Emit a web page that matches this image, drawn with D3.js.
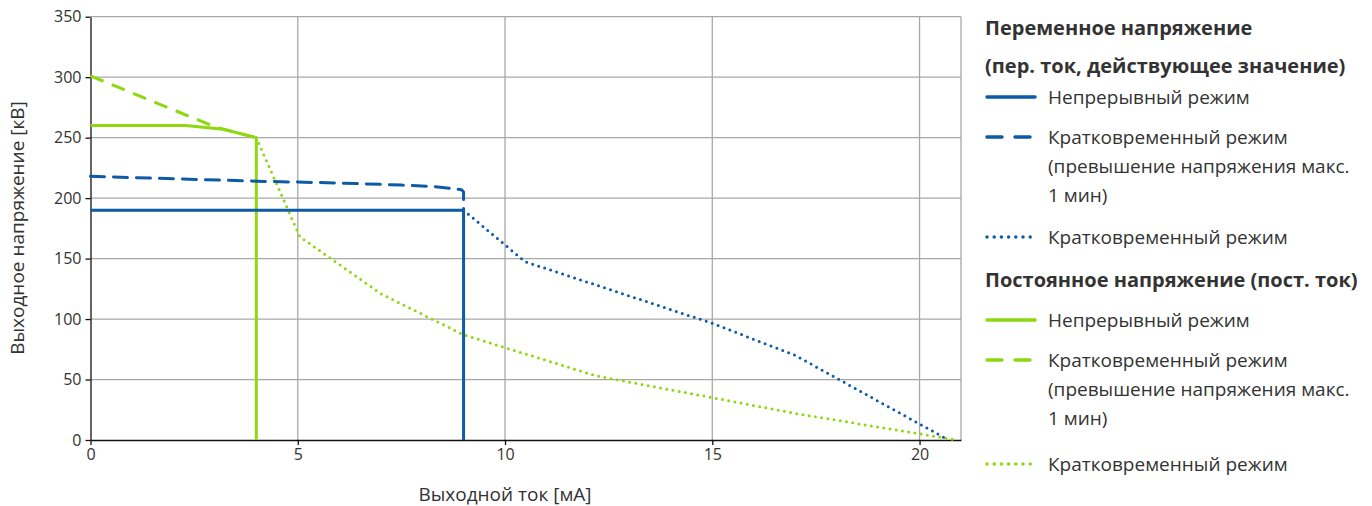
<!DOCTYPE html>
<html><head><meta charset="utf-8">
<script src="https://cdn.jsdelivr.net/npm/d3@7"></script>
<style>
body{margin:0;background:#fff;}
text{font-family:"Open Sans","Noto Sans",sans-serif;fill:#333;}
</style></head>
<body><svg id="c" width="1372" height="506"></svg>
<script>
const xTicks=[0,5,10,15,20];
const yTicks=[0,50,100,150,200,250,300,350];
const xTitle="Выходной ток [мА]";
const yTitle="Выходное напряжение [кВ]";
// AC (blue)
const acContinuous=[[0,190],[9,190],[9,0]];
const acShortOver=[[0,218],[2,216],[4,214],[6,212.5],[7.5,210.8],[8.3,209.5],[8.95,207],[9,205],[9,190]];
const acShort=[[9,190],[10.48,147.5],[15,96.5],[17,70],[20.7,0]];
// DC (green)
const dcContinuous=[[0,260],[2.3,260],[3.2,257],[4,250],[4,0]];
const dcShortOver=[[0,301],[3,259],[3.2,257],[4,250]];
const dcShort=[[4,250],[5.05,168],[7,121],[9,87],[12.2,53],[15,35],[17,22],[20.9,0]];
const legendHeadAC=["Переменное напряжение","(пер. ток, действующее значение)"];
const legendHeadDC=["Постоянное напряжение (пост. ток)"];
const legendLabels=[["Непрерывный режим"],["Кратковременный режим","(превышение напряжения макс.","1 мин)"],["Кратковременный режим"]];

const BLUE="#0d5aa6", GREEN="#8fd80f";
const svg=d3.select("#c");
const x=d3.scaleLinear().domain([0,21]).range([90.5,961]);
const y=d3.scaleLinear().domain([0,350]).range([440,16.7]);

// grid
const g=svg.append("g");
g.selectAll(".gx").data(xTicks.filter(d=>d>0).concat([21])).enter().append("line")
 .attr("x1",d=>x(d)).attr("x2",d=>x(d)).attr("y1",y(0)).attr("y2",y(350))
 .attr("stroke","#a8a8a8").attr("stroke-width",1.3);
g.selectAll(".gy").data(yTicks.filter(d=>d>0)).enter().append("line")
 .attr("x1",x(0)).attr("x2",x(21)).attr("y1",d=>y(d)).attr("y2",d=>y(d))
 .attr("stroke","#a8a8a8").attr("stroke-width",1.3);

// axes
const xa=svg.append("g").attr("transform",`translate(0,${y(0)})`)
 .call(d3.axisBottom(x).tickValues(xTicks).tickSize(5).tickPadding(4).tickSizeOuter(0));
const ya=svg.append("g").attr("transform",`translate(${x(0)},0)`)
 .call(d3.axisLeft(y).tickValues(yTicks).tickSize(5).tickPadding(4).tickSizeOuter(0));
[xa,ya].forEach(a=>{a.selectAll("path,line").attr("stroke","#111").attr("stroke-width",1.3);
 a.selectAll("text").style("font-size","16px").attr("fill","#333");});

svg.append("text").attr("x",505).attr("y",501).attr("text-anchor","middle").style("font-size","19px").text(xTitle);
svg.append("text").attr("transform","translate(24,228) rotate(-90)").attr("text-anchor","middle").style("font-size","19px").text(yTitle);

const line=d3.line().x(d=>x(d[0])).y(d=>y(d[1]));
const series=[
 {d:dcContinuous,c:GREEN,dash:null,cap:"butt"},
 {d:dcShortOver,c:GREEN,dash:"14 9",cap:"butt"},
 {d:dcShort,c:GREEN,dash:"0 6.3",cap:"round"},
 {d:acShortOver,c:BLUE,dash:"14 9",cap:"round"},
 {d:acShort,c:BLUE,dash:"0 6.3",cap:"round"},
 {d:acContinuous,c:BLUE,dash:null,cap:"butt"}
];
series.forEach(s=>{
 svg.append("path").datum(s.d).attr("d",line).attr("fill","none").attr("stroke",s.c)
  .attr("stroke-width",s.dash==="0 6.3"?3:3).attr("stroke-dasharray",s.dash).attr("stroke-linecap",s.cap)
  .attr("stroke-linejoin","round");
});

// legend
const L=svg.append("g");
const lx=985, tx=1048;
function head(lines,y0){lines.forEach((t,i)=>L.append("text").attr("x",lx).attr("y",y0+i*38).style("font-size","20px").style("font-weight","bold").attr("fill","#222").text(t));}
function entry(color,dash,cap,labels,yc){
 L.append("line").attr("x1",lx+2).attr("x2",lx+50).attr("y1",yc).attr("y2",yc).attr("stroke",color).attr("stroke-width",3.5)
  .attr("stroke-dasharray",dash).attr("stroke-linecap",cap);
 labels.forEach((t,i)=>L.append("text").attr("x",tx).attr("y",yc+7+i*29).style("font-size","19px").text(t));
}
head(legendHeadAC,35);
entry(BLUE,null,"round",legendLabels[0],97);
entry(BLUE,"15 13","round",legendLabels[1],137);
entry(BLUE,"0 7.2","round",legendLabels[2],237);
head(legendHeadDC,287);
entry(GREEN,null,"round",legendLabels[0],320);
entry(GREEN,"15 13","round",legendLabels[1],360);
entry(GREEN,"0 7.2","round",legendLabels[2],464);
</script></body></html>
